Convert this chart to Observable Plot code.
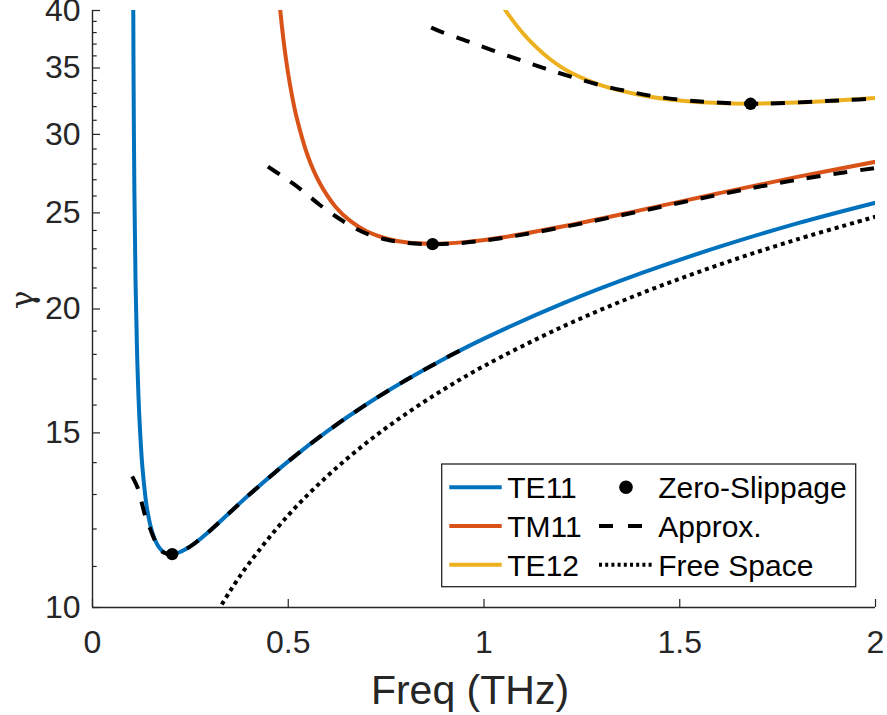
<!DOCTYPE html>
<html><head><meta charset="utf-8">
<script src="https://cdn.jsdelivr.net/npm/d3@7"></script>
<script src="https://cdn.jsdelivr.net/npm/@observablehq/plot@0.6"></script>
<style>
html,body{margin:0;padding:0;background:#fff;}
#wrap{position:relative;width:887px;height:715px;overflow:hidden;}
#legend{position:absolute;left:0;top:0;pointer-events:none;}
</style></head><body><div id="wrap"></div>
<script>
// ---- data ----
const te11Freq  = [0.1040, 0.105, 0.107, 0.110, 0.114, 0.120, 0.128, 0.140, 0.155, 0.170, 0.185, 0.200, 0.215, 0.240, 0.270, 0.300, 0.350, 0.400, 0.500, 0.600, 0.700, 0.800, 0.900, 1.000, 1.200, 1.400, 1.600, 1.800, 2.000];
const te11Gamma = [41.4, 33.6, 26.25, 21.25, 17.97, 15.48, 13.78, 12.53, 11.83, 11.50, 11.35, 11.32, 11.34, 11.46, 11.68, 11.95, 12.46, 12.99, 14.04, 15.06, 16.03, 16.95, 17.83, 18.67, 20.25, 21.72, 23.10, 24.40, 25.60];

const tm11Freq  = [0.478, 0.484, 0.490, 0.500, 0.510, 0.520, 0.550, 0.580, 0.620, 0.660, 0.700, 0.750, 0.800, 0.867, 0.950, 1.050, 1.200, 1.400, 1.600, 1.800, 2.000];
const tm11Gamma = [40.6, 38.49, 36.77, 34.50, 32.76, 31.37, 28.53, 26.81, 25.38, 24.51, 23.96, 23.56, 23.35, 23.27, 23.36, 23.63, 24.22, 25.16, 26.17, 27.18, 28.15];

const te12Freq  = [1.052, 1.070, 1.100, 1.130, 1.170, 1.220, 1.300, 1.400, 1.500, 1.600, 1.680, 1.800, 1.900, 2.000];
const te12Gamma = [40.17, 39.25, 37.92, 36.85, 35.70, 34.65, 33.62, 32.88, 32.45, 32.26, 32.22, 32.30, 32.45, 32.65];

const te11ApproxFreq  = [0.1014, 0.1148, 0.125, 0.1354, 0.1478, 0.1602, 0.1767, 0.2036, 0.240, 0.270, 0.300, 0.350, 0.400, 0.500, 0.600, 0.700, 0.800, 0.900, 0.943];
const te11ApproxGamma = [13.56, 13.22, 12.79, 12.34, 11.99, 11.67, 11.39, 11.32, 11.46, 11.68, 11.95, 12.46, 12.99, 14.04, 15.06, 16.03, 16.95, 17.83, 18.20];

const tm11ApproxFreq  = [0.448, 0.480, 0.510, 0.540, 0.580, 0.620, 0.660, 0.700, 0.750, 0.800, 0.868, 0.950, 1.050, 1.200, 1.400, 1.600, 1.800, 2.000];
const tm11ApproxGamma = [27.84, 27.30, 26.80, 26.25, 25.48, 24.82, 24.26, 23.83, 23.50, 23.33, 23.25, 23.33, 23.60, 24.18, 25.10, 26.08, 27.00, 27.75];

const te12ApproxFreq  = [0.865, 0.880, 0.950, 1.020, 1.090, 1.155, 1.225, 1.300, 1.370, 1.440, 1.520, 1.590, 1.681, 1.750, 1.850, 1.930, 2.000];
const te12ApproxGamma = [38.45, 38.22, 37.34, 36.49, 35.68, 34.97, 34.27, 33.61, 33.14, 32.75, 32.46, 32.31, 32.21, 32.25, 32.38, 32.50, 32.60];

const freeFreq  = [0.32, 0.35, 0.40, 0.50, 0.60, 0.70, 0.80, 0.90, 1.00, 1.20, 1.40, 1.60, 1.80, 2.00];
const freeGamma = [9.91, 10.37, 11.08, 12.39, 13.57, 14.66, 15.67, 16.62, 17.52, 19.19, 20.73, 22.16, 23.51, 24.78];

const zeroSlipFreq  = [0.2036, 0.8687, 1.681];
const zeroSlipGamma = [11.32, 23.25, 32.21];

const xTicks = [0, 0.5, 1, 1.5, 2];
const yMajorTicks = [10, 15, 20, 25, 30, 35, 40];
const yMinorTicks = [11, 12, 13, 14, 16, 17, 18, 19, 21, 22, 23, 24, 26, 27, 28, 29, 31, 32, 33, 34, 36, 37, 38, 39];

const xLabel = "Freq (THz)";
const yLabel = "γ";
const legendLeft  = ["TE11", "TM11", "TE12"];
const legendRight = ["Zero-Slippage", "Approx.", "Free Space"];
const modeColors  = ["#0072BD", "#D95319", "#EDB120"];

// ---- build tables ----
const zip = (fs, gs) => fs.map((f, i) => ({f, g: gs[i]}));
const te11 = zip(te11Freq, te11Gamma);
const tm11 = zip(tm11Freq, tm11Gamma);
const te12 = zip(te12Freq, te12Gamma);
const te11A = zip(te11ApproxFreq, te11ApproxGamma);
const tm11A = zip(tm11ApproxFreq, tm11ApproxGamma);
const te12A = zip(te12ApproxFreq, te12ApproxGamma);
const free = zip(freeFreq, freeGamma);
const zs = zip(zeroSlipFreq, zeroSlipGamma);

const FONT = "'Liberation Sans', Arial, Helvetica, sans-serif";
const AX = "#262626";
const LW = 4;
const DASH = "14,13";
const DOT = "4,4";

const solid = (data, color) => Plot.line(data, {x: "f", y: "g", stroke: color, strokeWidth: LW, strokeLinecap: "butt", curve: "catmull-rom", clip: true});
const dashed = (data) => Plot.line(data, {x: "f", y: "g", stroke: "black", strokeWidth: LW, strokeDasharray: DASH, strokeLinecap: "butt", curve: "catmull-rom", clip: true});

const chart = Plot.plot({
  width: 887,
  height: 715,
  marginLeft: 92,
  marginRight: 12,
  marginTop: 10,
  marginBottom: 108,
  style: {fontFamily: FONT, color: AX, background: "white", overflow: "visible"},
  x: {domain: [0, 2]},
  y: {type: "log", domain: [10, 40]},
  marks: [
    Plot.axisY({ticks: yMinorTicks, tickSize: -4.7, text: null, label: null, stroke: AX, strokeWidth: 1.2}),
    Plot.axisY({ticks: yMajorTicks, tickSize: -8, text: null, label: null, stroke: AX, strokeWidth: 1.2}),
    Plot.axisY({ticks: yMajorTicks, tickSize: 0, tickPadding: 12, fontSize: 32, fill: AX, tickFormat: d => String(d), label: null}),
    Plot.axisX({ticks: xTicks, tickSize: -8, text: null, label: null, stroke: AX, strokeWidth: 1.2}),
    Plot.axisX({ticks: xTicks, tickSize: 0, tickPadding: 23, fontSize: 32, fill: AX, tickFormat: d => String(d), label: null}),
    Plot.ruleX([0], {stroke: AX, strokeWidth: 1.4}),
    Plot.ruleY([10], {stroke: AX, strokeWidth: 1.4}),
    solid(te11, modeColors[0]),
    solid(tm11, modeColors[1]),
    solid(te12, modeColors[2]),
    dashed(te11A),
    dashed(tm11A),
    dashed(te12A),
    Plot.line(free, {x: "f", y: "g", stroke: "black", strokeWidth: 4, strokeDasharray: DOT, strokeLinecap: "butt", curve: "catmull-rom", clip: true}),
    Plot.dot(zs, {x: "f", y: "g", r: 6.2, fill: "black", stroke: "none"}),
    Plot.text([xLabel], {frameAnchor: "bottom", dx: -14, dy: 96, fontSize: 41, fill: AX}),
    Plot.text([yLabel], {frameAnchor: "left", dx: -69, rotate: -90, fontSize: 31, fill: AX, fontFamily: "'DejaVu Serif', 'Liberation Serif', serif"})
  ]
});

const wrap = document.getElementById("wrap");
wrap.appendChild(chart);

// ---- legend (overlay) ----
const lg = d3.select(wrap).append("svg").attr("id", "legend").attr("width", 887).attr("height", 715);
const box = {x: 441.7, y: 464, w: 414, h: 122.7};
lg.append("rect").attr("x", box.x).attr("y", box.y).attr("width", box.w).attr("height", box.h)
  .attr("fill", "white").attr("stroke", AX).attr("stroke-width", 1.3);
const rowY = [23.3, 62, 100.8];
legendLeft.forEach((lab, i) => {
  const cy = box.y + rowY[i];
  lg.append("line").attr("x1", box.x + 7.6).attr("x2", box.x + 60).attr("y1", cy).attr("y2", cy)
    .attr("stroke", modeColors[i]).attr("stroke-width", LW);
  lg.append("text").attr("x", box.x + 65.6).attr("y", cy + 10.8).attr("font-family", FONT)
    .attr("font-size", 30).attr("fill", "black").text(lab);
});
legendRight.forEach((lab, i) => {
  const cy = box.y + rowY[i];
  if (i === 0) {
    lg.append("circle").attr("cx", box.x + 184.3).attr("cy", cy).attr("r", 6.8).attr("fill", "black");
  } else {
    lg.append("line").attr("x1", box.x + 157.3).attr("x2", i === 1 ? box.x + 201.5 : box.x + 210)
      .attr("y1", cy).attr("y2", cy).attr("stroke", "black").attr("stroke-width", LW)
      .attr("stroke-dasharray", i === 1 ? "14,15" : "3,3.2");
  }
  lg.append("text").attr("x", box.x + 216.6).attr("y", cy + 10.8).attr("font-family", FONT)
    .attr("font-size", 30).attr("fill", "black").text(lab);
});
</script>
</body></html>
